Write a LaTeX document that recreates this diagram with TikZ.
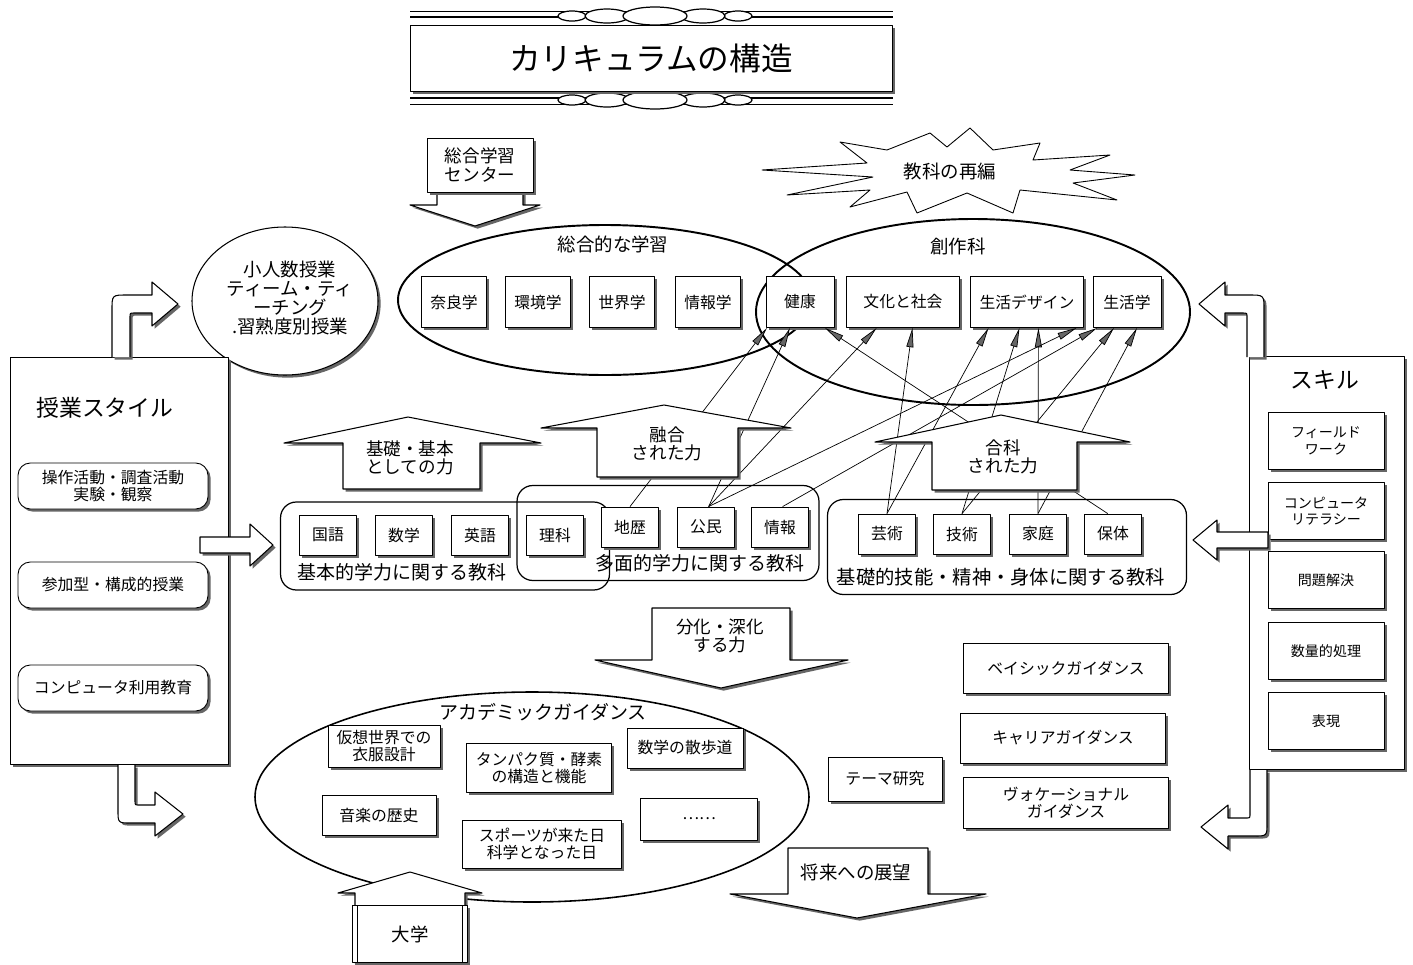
\documentclass[tikz,border=0pt]{standalone}
\usepackage{fontspec}
\setmainfont{Noto Sans CJK JP}
\usetikzlibrary{arrows.meta, shadows}

\begin{document}
\begin{tikzpicture}[x=0.02cm, y=-0.02cm, line join=round,
        dshadow/.style={drop shadow={shadow xshift=1.5pt, shadow yshift=-1.5pt, fill=black!60, opacity=1}},
        box/.style={draw, fill=white, dshadow, line width=0.5pt, inner sep=1pt, align=center, font=\fontsize{9}{9.5}\selectfont},
        subj/.style={box, minimum width=1.14cm, minimum height=0.8cm},
        topbox/.style={box, minimum height=1.02cm},
        skillbox/.style={box, minimum width=2.32cm, minimum height=1.14cm, font=\fontsize{8}{9.5}\selectfont},
        styleitem/.style={box, rounded corners=7pt, minimum width=3.8cm, minimum height=0.92cm},
        panel/.style={draw, fill=white, dshadow, line width=0.5pt},
        group/.style={draw, rounded corners=9pt, line width=0.7pt},
        blockarrow/.style={draw, fill=white, dshadow, line width=0.6pt},
        link/.style={line width=0.4pt, -{Triangle[length=11pt, width=4pt, fill=black!60]}},
        lbl/.style={align=center, font=\fontsize{10.5}{10.5}\selectfont}]
        \fill[white] (0,0) rectangle (1413,964);
        \useasboundingbox (0,0) rectangle (1413,964);

        % Title banner
        \draw[line width=0.4pt] (410,11) -- (893,11);
        \draw[line width=1.5pt] (410,17) -- (893,17);
        \draw[line width=1.5pt] (410,98) -- (893,98);
        \draw[line width=0.4pt] (410,104) -- (893,104);
        \foreach \ox/\rx/\ry in {572/14/5, 738/14/5, 607/22/7, 703/22/7, 655/32/9} {
            \draw[fill=white, line width=0.7pt] (\ox,16) ellipse [x radius=\rx, y radius=\ry];
            \draw[fill=white, line width=0.7pt] (\ox,100) ellipse [x radius=\rx, y radius=\ry];
        }
        \node[box, minimum width=9.64cm, minimum height=1.32cm, font=\fontsize{18}{20}\selectfont] (title) at (651,58) {カリキュラムの構造};

        % Centre of integrated learning
        \draw[blockarrow] (437,190) -- (437,205) -- (410,205) -- (475,226) -- (540,205) -- (523,205) -- (523,190);
        \node[box, minimum width=2.12cm, minimum height=1.08cm, font=\fontsize{10}{10.5}\selectfont] (sgcenter) at (480,165) {総合学習\\センター};

        % Burst
        \draw[fill=white, line width=0.5pt] (762,170) -- (867,163) -- (840,142) -- (887,150) -- (930,133) -- (947,147)
            -- (970,128) -- (993,150) -- (1040,143) -- (1033,160) -- (1110,155) -- (1070,170) -- (1135,175)
            -- (1073,183) -- (1117,200) -- (1020,190) -- (1013,213) -- (967,193) -- (917,213) -- (907,192)
            -- (850,207) -- (870,190) -- (787,195) -- (873,177) -- cycle;
        \node[lbl] (rehen) at (950,172) {教科の再編};

        % Upper ellipses
        \draw[line width=1.1pt] (605,300) ellipse [x radius=207, y radius=75];
        \draw[line width=1.1pt] (973,312) ellipse [x radius=217, y radius=93];
        \node[lbl] (sogolbl) at (613,244) {総合的な学習};
        \node[lbl] (sosakulbl) at (958,246) {創作科};

        \draw[fill=white, dshadow, line width=0.6pt] (285,301) ellipse [x radius=93, y radius=74];
        \node[lbl, font=\fontsize{10.5}{11}\selectfont] (shonin) at (290,298) {小人数授業\\ティーム・ティ\\ーチング\\.習熟度別授業};

        % Upper subjects
        \foreach \nm/\txt/\x/\w in {nara/奈良学/454/1.3, kankyo/環境学/538/1.3, sekai/世界学/622/1.3, johogaku/情報学/708/1.3,
                kenko/健康/800/1.36, bunka/文化と社会/903/2.26, design/生活デザイン/1027/2.26, seikatsu/生活学/1127/1.36}
            \node[topbox, minimum width=\w cm] (\nm) at (\x,302) {\txt};

        % Teaching style panel
        \node[panel, minimum width=4.36cm, minimum height=8.14cm] (jugyo) at (119,561) {};
        \node[font=\fontsize{13}{13}\selectfont] (jugyolbl) at (105,408) {授業スタイル};
        \node[styleitem] (sosa) at (113,486) {操作活動・調査活動\\実験・観察};
        \node[styleitem] (sanka) at (113,585) {参加型・構成的授業};
        \node[styleitem] (pcuse) at (113,688) {コンピュータ利用教育};

        % Skill panel
        \node[panel, minimum width=3.1cm, minimum height=8.26cm] (skill) at (1327,563) {};
        \node[font=\fontsize{13}{13}\selectfont] (skilllbl) at (1325,380) {スキル};
        \foreach \nm/\txt/\y in {field/{フィールド\\ワーク}/441, literacy/{コンピュータ\\リテラシー}/511,
                mondai/問題解決/580, suryo/数量的処理/651, hyogen/表現/721}
            \node[skillbox] (\nm) at (1326,\y) {\txt};

        % Bent and straight block arrows
        \draw[blockarrow] (112,357) -- (112,310) .. controls (112,295) .. (127,295) -- (152,295) -- (152,282) -- (178,304)
            -- (152,326) -- (152,313) -- (134,313) .. controls (130,313) .. (130,317) -- (130,357);
        \draw[blockarrow] (118,765) -- (118,810) .. controls (118,823) .. (131,823) -- (155,823) -- (155,836) -- (183,814)
            -- (155,792) -- (155,805) -- (139,805) .. controls (135,805) .. (135,801) -- (135,765);
        \draw[blockarrow] (1264,357) -- (1264,310) .. controls (1264,295) .. (1249,295) -- (1225,295) -- (1225,282) -- (1199,304)
            -- (1225,326) -- (1225,313) -- (1243,313) .. controls (1247,313) .. (1247,317) -- (1247,357);
        \draw[blockarrow] (1267,770) -- (1267,823) .. controls (1267,836) .. (1254,836) -- (1228,836) -- (1228,849) -- (1201,827)
            -- (1228,805) -- (1228,818) -- (1246,818) .. controls (1250,818) .. (1250,814) -- (1250,770);
        \draw[blockarrow] (200,537) -- (250,537) -- (250,524) -- (273,545) -- (250,566) -- (250,553) -- (200,553) -- cycle;
        \draw[blockarrow] (1268,532) -- (1217,532) -- (1217,520) -- (1193,540) -- (1217,560) -- (1217,548) -- (1268,548) -- cycle;

        % Subject groups
        \node[group, minimum width=6.58cm, minimum height=1.76cm] (kihongrp) at (445,546) {};
        \node[group, minimum width=6.04cm, minimum height=1.9cm] (tamengrp) at (668,533) {};
        \node[group, minimum width=7.18cm, minimum height=1.9cm] (kisogrp) at (1007,547) {};
        \node[font=\fontsize{10.8}{11}\selectfont] (kihonlbl) at (402,572) {基本的学力に関する教科};
        \node[font=\fontsize{10.8}{11}\selectfont] (tamenlbl) at (700,563) {多面的学力に関する教科};
        \node[font=\fontsize{11}{12}\selectfont] (kisolbl) at (1001,577) {基礎的技能・精神・身体に関する教科};

        \foreach \nm/\txt/\x/\y in {kokugo/国語/328/535, sugaku/数学/404/535, eigo/英語/480/535, rika/理科/555/535,
                chireki/地歴/630/527, komin/公民/706/527, joho/情報/780/527,
                geijutsu/芸術/887/534, gijutsu/技術/962/534, katei/家庭/1038/534, hotai/保体/1113/534}
            \node[subj] (\nm) at (\x,\y) {\txt};

        % Links into the upper subjects
        \draw[link] (chireki.north) -- ([xshift=-18.8pt]kenko.south);
        \draw[link] ([xshift=1.5pt]komin.north) -- ([xshift=-5.7pt]kenko.south);
        \draw[link] ([xshift=-3pt]hotai.north) -- ([xshift=14.2pt]kenko.south);
        \draw[link] ([xshift=1.5pt]komin.north) -- ([xshift=-15pt]bunka.south);
        \draw[link] (geijutsu.north) -- ([xshift=5.4pt]bunka.south);
        \draw[link] (geijutsu.north) -- ([xshift=-21.9pt]design.south);
        \draw[link] (gijutsu.north) -- ([xshift=-4.3pt]design.south);
        \draw[link] (katei.north) -- ([xshift=6.5pt]design.south);
        \draw[link] ([xshift=1.5pt]komin.north) -- ([xshift=28.2pt]design.south);
        \draw[link] ([xshift=1.5pt]joho.north) -- ([xshift=-17pt]seikatsu.south);
        \draw[link] (gijutsu.north) -- ([xshift=-7.4pt]seikatsu.south);
        \draw[link] (katei.north) -- ([xshift=5.7pt]seikatsu.south);

        % Upward arrows
        \draw[blockarrow] (284,443) -- (408,417) -- (541,443) -- (480,443) -- (480,489) -- (343,489) -- (343,443) -- cycle;
        \node[lbl, font=\fontsize{10}{10.5}\selectfont] (kisoup) at (410,458) {基礎・基本\\としての力};
        \draw[blockarrow] (541,428) -- (664,405) -- (791,428) -- (738,428) -- (738,477) -- (597,477) -- (597,428) -- cycle;
        \node[lbl, font=\fontsize{10}{10.5}\selectfont] (yugoup) at (667,444) {融合\\された力};
        \draw[blockarrow] (875,442) -- (1001,415) -- (1130,442) -- (1077,442) -- (1077,490) -- (932,490) -- (932,442) -- cycle;
        \node[lbl, font=\fontsize{10}{10.5}\selectfont] (gokaup) at (1003,457) {合科\\された力};

        % Downward arrow
        \draw[blockarrow] (652,608) -- (790,608) -- (790,660) -- (848,660) -- (721,688) -- (595,660) -- (652,660) -- cycle;
        \node[lbl, font=\fontsize{10}{10.5}\selectfont] (bunkadown) at (720,636) {分化・深化\\する力};

        % Academic guidance
        \draw[line width=0.9pt] (532,797) ellipse [x radius=277, y radius=105];
        \node[font=\fontsize{10.8}{11}\selectfont] (acadlbl) at (543,712) {アカデミックガイダンス};
        \node[box, minimum width=2.24cm, minimum height=0.84cm] (kaso) at (384,746) {仮想世界での\\衣服設計};
        \node[box, minimum width=2.9cm, minimum height=0.98cm] (tanpaku) at (539,768) {タンパク質・酵素\\の構造と機能};
        \node[box, minimum width=2.32cm, minimum height=0.8cm] (sanpo) at (685,748) {数学の散歩道};
        \node[box, minimum width=2.28cm, minimum height=0.8cm] (ongaku) at (379,815) {音楽の歴史};
        \node[box, minimum width=3.18cm, minimum height=0.96cm] (sports) at (542,844) {スポーツが来た日\\科学となった日};
        \node[box, minimum width=2.34cm, minimum height=0.84cm] (etc) at (699,819) {……};

        % University
        \draw[blockarrow] (355,963) -- (355,893) -- (338,893) -- (410,872) -- (482,893) -- (465,893) -- (465,963);
        \node[box, minimum width=2.3cm, minimum height=1.14cm, font=\fontsize{10.5}{11}\selectfont] (daigaku) at (410,934) {大学};
        \draw ([xshift=3pt]daigaku.north west) -- ([xshift=3pt]daigaku.south west);
        \draw ([xshift=-3pt]daigaku.north east) -- ([xshift=-3pt]daigaku.south east);

        % Future prospects
        \draw[blockarrow] (788,848) -- (928,848) -- (928,894) -- (986,894) -- (857,918) -- (730,894) -- (788,894) -- cycle;
        \node[lbl] (shorai) at (856,872) {将来への展望};

        % Guidance boxes
        \node[box, minimum width=2.28cm, minimum height=0.88cm] (theme) at (885,779) {テーマ研究};
        \node[box, minimum width=4.1cm, minimum height=1.0cm] (basic) at (1066,668) {ベイシックガイダンス};
        \node[box, minimum width=4.1cm, minimum height=1.0cm] (career) at (1063,738) {キャリアガイダンス};
        \node[box, minimum width=4.1cm, minimum height=1.02cm] (vocation) at (1066,803) {ヴォケーショナル\\ガイダンス};
    \end{tikzpicture}
\end{document}
